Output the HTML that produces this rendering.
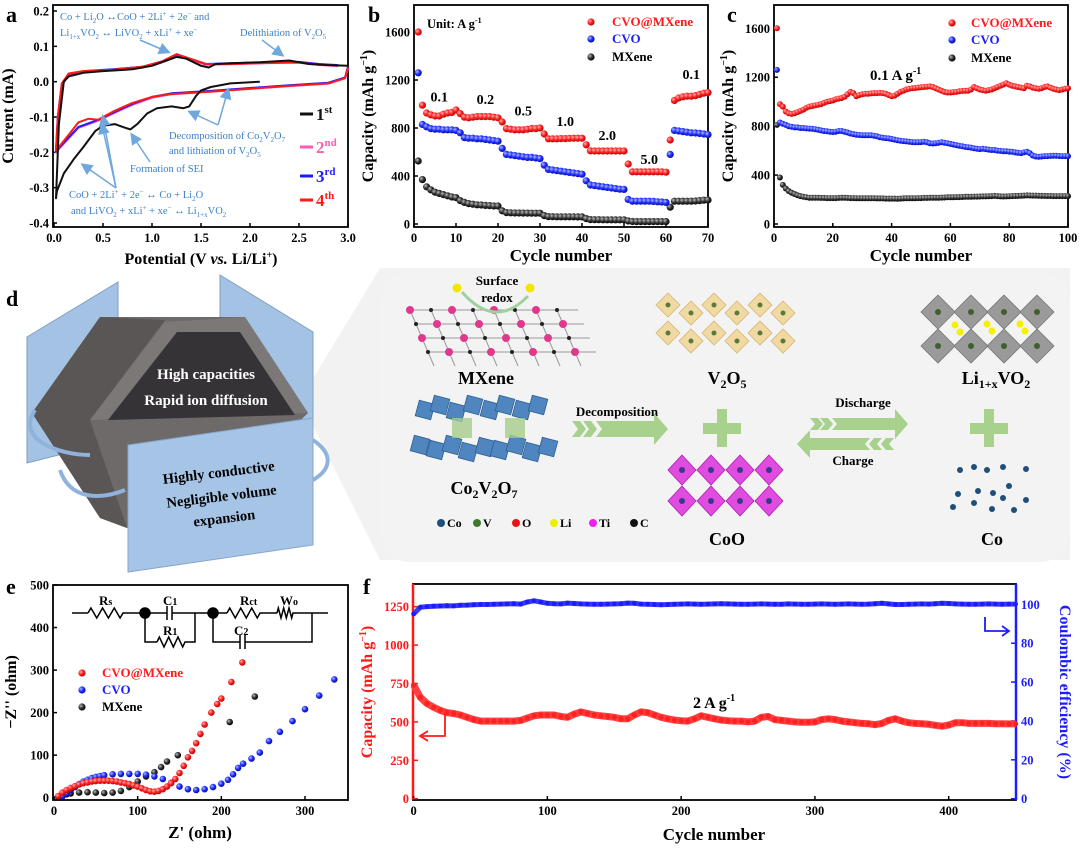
<!DOCTYPE html>
<html><head><meta charset="utf-8"><style>
html,body{margin:0;padding:0;background:#fff;}
svg{display:block;}
text{font-family:"Liberation Serif",serif;}
.b{font-weight:bold;}
</style></head><body>
<svg id="fig" xmlns="http://www.w3.org/2000/svg" width="1080" height="848" viewBox="0 0 1080 848">
<defs>
<radialGradient id="gR" cx="0.35" cy="0.35" r="0.7"><stop offset="0" stop-color="#ffb0b0"/><stop offset="0.5" stop-color="#ff2020"/><stop offset="1" stop-color="#b00000"/></radialGradient>
<radialGradient id="gB" cx="0.35" cy="0.35" r="0.7"><stop offset="0" stop-color="#b0b8ff"/><stop offset="0.5" stop-color="#2030ff"/><stop offset="1" stop-color="#0008a0"/></radialGradient>
<radialGradient id="gK" cx="0.35" cy="0.35" r="0.7"><stop offset="0" stop-color="#bbbbbb"/><stop offset="0.5" stop-color="#333"/><stop offset="1" stop-color="#000"/></radialGradient>
<marker id="arrB" markerWidth="8" markerHeight="8" refX="6" refY="4" orient="auto"><path d="M0,0 L8,4 L0,8 Z" fill="#6fa8dc"/></marker>
</defs>

<text x="6" y="22" class="b" font-size="22">a</text>
<text x="368" y="22" class="b" font-size="22">b</text>
<text x="727" y="22" class="b" font-size="22">c</text>
<text x="6" y="306" class="b" font-size="22">d</text>
<text x="6" y="594" class="b" font-size="22">e</text>
<text x="363" y="594" class="b" font-size="22">f</text>

<g id="pa"></g>
<g id="pb"></g>
<g id="pc"></g>
<g id="pe"></g>
<g id="pf"></g>

<g fill="#3d7ec6" font-size="10.5">
<text x="60" y="20">Co + Li<tspan font-size="7" dy="3">2</tspan><tspan dy="-3">O ↔CoO + 2Li</tspan><tspan font-size="7" dy="-4">+</tspan><tspan dy="4"> + 2e</tspan><tspan font-size="7" dy="-4">−</tspan><tspan dy="4"> and</tspan></text>
<text x="60" y="36">Li<tspan font-size="7" dy="3">1+x</tspan><tspan dy="-3">VO</tspan><tspan font-size="7" dy="3">2</tspan><tspan dy="-3"> ↔ LiVO</tspan><tspan font-size="7" dy="3">2</tspan><tspan dy="-3"> + xLi</tspan><tspan font-size="7" dy="-4">+</tspan><tspan dy="4"> + xe</tspan><tspan font-size="7" dy="-4">−</tspan></text>
<text x="240" y="36">Delithiation of V<tspan font-size="7" dy="3">2</tspan><tspan dy="-3">O</tspan><tspan font-size="7" dy="3">5</tspan></text>
<text x="169" y="139">Decomposition of Co<tspan font-size="7" dy="3">2</tspan><tspan dy="-3">V</tspan><tspan font-size="7" dy="3">2</tspan><tspan dy="-3">O</tspan><tspan font-size="7" dy="3">7</tspan></text>
<text x="169" y="154">and lithiation of V<tspan font-size="7" dy="3">2</tspan><tspan dy="-3">O</tspan><tspan font-size="7" dy="3">5</tspan></text>
<text x="130" y="172">Formation of SEI</text>
<text x="69" y="198">CoO + 2Li<tspan font-size="7" dy="-4">+</tspan><tspan dy="4"> + 2e</tspan><tspan font-size="7" dy="-4">−</tspan><tspan dy="4"> ↔ Co + Li</tspan><tspan font-size="7" dy="3">2</tspan><tspan dy="-3">O</tspan></text>
<text x="71" y="214">and LiVO<tspan font-size="7" dy="3">2</tspan><tspan dy="-3"> + xLi</tspan><tspan font-size="7" dy="-4">+</tspan><tspan dy="4"> + xe</tspan><tspan font-size="7" dy="-4">−</tspan><tspan dy="4"> ↔ Li</tspan><tspan font-size="7" dy="3">1+x</tspan><tspan dy="-3">VO</tspan><tspan font-size="7" dy="3">2</tspan></text>
</g>
<g stroke="#6fa8dc" stroke-width="1.5" fill="none" marker-end="url(#arrB)">
<line x1="140" y1="40" x2="168" y2="52"/>
<line x1="262" y1="40" x2="282" y2="55"/>
<line x1="218" y1="125" x2="190" y2="112"/>
<line x1="218" y1="125" x2="228" y2="90"/>
<line x1="150" y1="162" x2="132" y2="135"/>
<line x1="116" y1="188" x2="83" y2="165"/>
<line x1="116" y1="188" x2="102" y2="125"/>
<line x1="116" y1="188" x2="103" y2="117"/>
</g>

<g>
<polygon points="300,400 380,268 1070,268 1070,560 380,560" fill="#f2f2f2"/>
<rect x="380" y="272" width="690" height="290" rx="30" fill="#f3f3f3"/>
<polygon points="27,337 118,282 118,440 27,463" fill="#a4c2e4" stroke="#7f9fc4"/>
<polygon points="220,275 313,332 313,463 220,440" fill="#a4c2e4" stroke="#7f9fc4"/>
<polygon points="100,317 245,317 308,413 280,440 127,528 100,518 32,413" fill="#6e6a6a"/>
<polygon points="32,413 100,317 165,320 90,420 127,528 100,518" fill="#5a5656"/>
<polygon points="165,322 245,317 308,413 90,420" fill="#7c7878"/>
<polygon points="177,332 240,332 295,415 108,420" fill="#353335"/>
<path d="M35,410 C15,440 60,455 90,455" stroke="#8fb3dc" stroke-width="4" fill="none"/>
<path d="M60,470 C70,500 100,500 125,490" stroke="#8fb3dc" stroke-width="4" fill="none"/>
<path d="M313,440 C335,455 330,470 313,480" stroke="#8fb3dc" stroke-width="4" fill="none"/>
<polygon points="128,445 313,418 313,545 128,572" fill="#a6c4e6" stroke="#86a6cc"/>
<text x="206" y="379" text-anchor="middle" fill="#fff" class="b" font-size="15">High capacities</text>
<text x="206" y="405" text-anchor="middle" fill="#fff" class="b" font-size="15">Rapid ion diffusion</text>
<g transform="rotate(-7 222 500)">
<text x="222" y="477" text-anchor="middle" class="b" font-size="14.5">Highly conductive</text>
<text x="222" y="501" text-anchor="middle" class="b" font-size="14.5">Negligible volume</text>
<text x="222" y="523" text-anchor="middle" class="b" font-size="14.5">expansion</text>
</g>
</g>

<g id="mech">
<text x="497" y="285" text-anchor="middle" class="b" font-size="13">Surface</text>
<text x="497" y="302" text-anchor="middle" class="b" font-size="13">redox</text>
<text x="486" y="384" text-anchor="middle" class="b" font-size="18">MXene</text>
<text x="727" y="384" text-anchor="middle" class="b" font-size="18">V<tspan font-size="12" dy="4">2</tspan><tspan dy="-4">O</tspan><tspan font-size="12" dy="4">5</tspan></text>
<text x="996" y="384" text-anchor="middle" class="b" font-size="18">Li<tspan font-size="12" dy="4">1+x</tspan><tspan dy="-4">VO</tspan><tspan font-size="12" dy="4">2</tspan></text>
<text x="484" y="494" text-anchor="middle" class="b" font-size="18">Co<tspan font-size="12" dy="4">2</tspan><tspan dy="-4">V</tspan><tspan font-size="12" dy="4">2</tspan><tspan dy="-4">O</tspan><tspan font-size="12" dy="4">7</tspan></text>
<text x="727" y="545" text-anchor="middle" class="b" font-size="18">CoO</text>
<text x="992" y="545" text-anchor="middle" class="b" font-size="18">Co</text>
<text x="617" y="416" text-anchor="middle" class="b" font-size="13">Decomposition</text>
<text x="863" y="407" text-anchor="middle" class="b" font-size="13">Discharge</text>
<text x="853" y="465" text-anchor="middle" class="b" font-size="13">Charge</text>
<g fill="#a8d18d">
<polygon points="572,421 580,421 586,429 580,437 572,437 578,429"/>
<polygon points="583,421 591,421 597,429 591,437 583,437 589,429"/>
<polygon points="596,421 654,421 654,413 668,429 654,445 654,437 596,437 602,429"/>
<rect x="703" y="423" width="38" height="11"/><rect x="717" y="409" width="10" height="38"/>
<rect x="970" y="423" width="38" height="11"/><rect x="984" y="409" width="10" height="38"/>
<polygon points="810,418 818,418 823,424 818,430 810,430 815,424"/>
<polygon points="820,418 828,418 833,424 828,430 820,430 825,424"/>
<polygon points="832,418 895,418 895,409 908,424 895,439 895,430 832,430 837,424"/>
<polygon points="797,444 810,430 810,438 870,438 865,444 870,450 810,450 810,458"/>
<polygon points="874,438 882,438 877,444 882,450 874,450 869,444"/>
<polygon points="886,438 894,438 889,444 894,450 886,450 881,444"/>
</g>
<g font-size="12" class="b">
<circle cx="441" cy="523" r="4" fill="#1f4e79"/><text x="447" y="527">Co</text>
<circle cx="477" cy="523" r="4" fill="#3f7a2a"/><text x="483" y="527">V</text>
<circle cx="516" cy="523" r="4" fill="#ee1111"/><text x="522" y="527">O</text>
<circle cx="554" cy="523" r="4" fill="#eeee00"/><text x="560" y="527">Li</text>
<circle cx="593" cy="523" r="4" fill="#ee22ee"/><text x="599" y="527">Ti</text>
<circle cx="634" cy="523" r="4" fill="#111"/><text x="640" y="527">C</text>
</g>
</g>
</svg>

<script>
// Panel a: CV curves (potential V, current mA)
const aV1=[2.1,1.8,1.6,1.5,1.45,1.38,1.32,1.2,1.05,0.95,0.85,0.78,0.72,0.62,0.5,0.42,0.3,0.2,0.1,0.03,0.02,0.05,0.1,0.15,0.3,0.5,0.8,1.0,1.15,1.25,1.35,1.5,1.58,1.65,1.8,2.1,2.4,2.6,2.8,3.0];
const aI1=[0.0,-0.005,-0.015,-0.025,-0.04,-0.07,-0.075,-0.07,-0.075,-0.09,-0.12,-0.135,-0.13,-0.12,-0.125,-0.14,-0.185,-0.22,-0.26,-0.31,-0.33,-0.12,0.0,0.015,0.025,0.03,0.035,0.045,0.06,0.07,0.065,0.045,0.04,0.05,0.052,0.055,0.06,0.05,0.047,0.045];
const aV2=[3.0,2.97,2.8,2.4,2.0,1.6,1.2,1.0,0.8,0.6,0.45,0.35,0.25,0.15,0.05,0.02,0.04,0.08,0.15,0.3,0.6,0.9,1.1,1.25,1.4,1.55,1.8,2.2,2.5,2.7,2.9];
const aI2=[0.04,0.01,-0.005,-0.012,-0.02,-0.028,-0.035,-0.045,-0.065,-0.09,-0.11,-0.12,-0.13,-0.16,-0.19,-0.2,-0.1,-0.01,0.02,0.028,0.033,0.04,0.055,0.075,0.062,0.048,0.05,0.053,0.054,0.048,0.045];
const aV4=[3.0,2.97,2.8,2.4,2.0,1.6,1.2,1.0,0.8,0.6,0.45,0.35,0.25,0.15,0.05,0.02,0.04,0.08,0.15,0.3,0.6,0.9,1.1,1.25,1.4,1.55,1.8,2.2,2.5,2.7,2.9];
const aI4=[0.04,0.01,-0.005,-0.012,-0.02,-0.028,-0.035,-0.043,-0.06,-0.085,-0.108,-0.105,-0.115,-0.15,-0.185,-0.195,-0.1,-0.005,0.023,0.03,0.034,0.042,0.057,0.078,0.064,0.05,0.05,0.053,0.055,0.048,0.045];
const aXTicks=[0,0.5,1.0,1.5,2.0,2.5,3.0];
const aYTicks=[-0.4,-0.3,-0.2,-0.1,0.0,0.1,0.2];

// Panel b
const bCVOM=[1600,990,925,910,900,900,915,925,930,950,920,890,885,890,895,895,895,895,890,885,850,795,790,785,785,785,790,795,795,800,750,710,710,710,712,712,714,715,715,715,660,610,608,608,608,608,608,608,608,608,500,435,435,435,435,435,435,435,435,432,700,1030,1050,1060,1065,1065,1070,1080,1090,1095];
const bCVO=[1260,830,810,795,790,790,785,785,785,780,760,720,715,715,710,710,705,700,695,690,630,580,575,570,565,560,555,555,550,545,490,455,450,445,440,435,430,425,420,415,360,325,320,315,310,305,300,295,290,288,205,190,190,190,190,190,188,185,183,180,580,780,775,770,765,760,758,755,750,745];
const bMX=[525,370,310,285,265,255,245,235,225,220,195,180,170,165,160,158,155,153,150,150,110,95,93,92,92,91,91,90,90,90,70,62,61,60,60,60,60,60,59,59,45,37,36,36,35,35,35,35,35,35,25,21,20,20,20,20,20,20,20,20,140,190,190,190,190,190,192,195,198,200];
const bXTicks=[0,10,20,30,40,50,60,70];
const bYTicks=[0,400,800,1200,1600];
const bRateLabels=["0.1","0.2","0.5","1.0","2.0","5.0","0.1"];
const bRateCycles=[6,17,26,36,46,56,66];
const bRateVals=[1020,1000,905,815,700,500,1210];

// Panel c
const cCVOM=[1600,980,960,920,905,900,905,915,925,935,950,960,965,970,975,980,990,1000,1005,1010,1020,1025,1030,1040,1060,1080,1070,1045,1055,1060,1065,1065,1068,1070,1070,1072,1070,1065,1055,1045,1050,1065,1080,1090,1100,1105,1110,1112,1115,1118,1120,1122,1125,1120,1110,1100,1090,1080,1075,1075,1078,1080,1085,1088,1090,1090,1100,1120,1110,1100,1095,1090,1095,1100,1110,1120,1130,1140,1150,1140,1130,1125,1120,1115,1110,1130,1125,1115,1110,1105,1110,1120,1125,1115,1105,1100,1095,1100,1105,1110];
const cCVO=[1260,830,820,810,800,795,790,790,785,785,782,780,778,775,770,765,760,758,755,752,755,760,760,755,748,740,735,730,728,725,725,725,725,722,718,710,705,702,700,695,690,685,680,678,675,672,670,668,668,670,672,668,660,658,660,665,668,665,660,655,650,645,640,635,630,628,625,620,615,612,615,612,608,605,605,600,598,595,595,592,590,585,582,580,585,590,580,560,552,550,552,555,555,557,558,558,556,555,555,555];
const cMX=[810,380,320,290,270,255,245,235,228,222,218,215,215,214,214,213,213,212,212,212,212,213,214,214,213,212,212,211,211,210,210,210,210,210,209,209,209,208,208,208,208,207,208,209,210,210,211,211,212,212,213,213,214,214,215,215,216,217,218,218,219,220,220,221,222,222,223,224,224,225,226,226,227,228,230,228,226,225,226,227,228,229,230,231,232,234,233,232,232,231,230,230,229,229,228,228,228,228,228,228];
const cXTicks=[0,20,40,60,80,100];
const cYTicks=[0,400,800,1200,1600];

// Panel e
const eZr1=[5,10,15,20,25,30,35,40,45,50,55,60,65,70,75,80,85,90,95,100,105,110,115,120,125,130,135,140,145,150,155,160,165,170,175,180,188,195,200,212,225];
const eZi1=[4,12,18,23,27,31,34,36,38,39,40,40,40,39,38,36,34,32,29,26,22,18,15,14,16,20,26,34,44,58,75,95,110,128,150,172,200,220,233,272,318];
const eZr2=[10,15,20,25,30,35,40,45,50,55,60,70,80,90,100,110,120,130,140,150,160,170,180,190,200,208,214,220,226,236,246,257,270,285,300,317,335];
const eZi2=[3,10,18,25,32,38,42,46,49,51,53,55,56,56,56,54,50,44,35,26,20,18,20,25,33,42,55,70,80,92,106,133,155,180,208,240,278];
const eZr3=[5,10,15,20,30,40,50,60,70,80,90,100,110,120,128,135,148,210,240];
const eZi3=[2,5,8,10,12,13,12,11,12,16,25,38,50,60,72,85,100,178,238];
const eXTicks=[0,100,200,300];
const eYTicks=[0,100,200,300,400,500];

// Panel f
const fCap=[740,660,620,595,575,560,555,545,530,515,505,505,505,505,505,505,510,525,540,545,545,545,535,530,550,565,555,545,540,535,530,520,520,545,565,560,545,530,520,512,508,505,520,540,530,520,512,508,505,505,500,505,530,535,515,510,505,500,498,498,500,515,520,515,505,500,495,490,488,482,490,510,520,505,495,490,488,485,478,472,480,495,495,490,490,490,490,488,488,487,487];
const fCE=[95,98.5,98.8,99,99.1,99.3,99.2,99.5,99.6,99.8,99.9,99.9,100,100.1,100.2,100.3,100.1,101.2,101.8,101.2,100.5,100.3,100.2,100.6,100.4,100.2,100.1,100,100,100.1,100.2,100.3,100.6,100.5,100.1,100,99.9,99.8,99.9,100,100.1,100.2,100.1,100,100.1,100.2,100.3,100.2,100.1,100,100,100.1,100.2,100.1,100,100,100.2,100.1,100,100,100.1,100.2,100.1,100,100.1,100.2,100.1,100,100.1,100.3,100.5,100.2,99.9,99.9,100,100.1,100.2,100.1,100.3,100.5,100.4,100.2,100.1,100,100,100.1,100.2,100.1,100,100.1,100.1];
const fXTicks=[0,100,200,300,400];
const fYLTicks=[0,250,500,750,1000,1250];
const fYRTicks=[0,20,40,60,80,100];

const NS="http://www.w3.org/2000/svg";
function mk(tag,attrs,parent){const e=document.createElementNS(NS,tag);for(const k in attrs)e.setAttribute(k,attrs[k]);parent.appendChild(e);return e;}
function txt(parent,x,y,s,size,anchor,fill){const t=mk('text',{x:x,y:y,'font-size':size,'text-anchor':anchor||'middle',fill:fill||'#000','font-weight':'bold'},parent);t.textContent=s;return t;}
function fmt(v,d){return v.toFixed(d);}
function axesBox(g,x0,y0,x1,y1,xt,fx,yt,fy,xd,yd,name){
  const r=mk('rect',{x:x0,y:y0,width:x1-x0,height:y1-y0,fill:'none',stroke:'#000','stroke-width':1.8},g);
  
  
  xt.forEach(v=>{const x=fx(v);
    const l=mk('line',{x1:x,y1:y1,x2:x,y2:y1-4,stroke:'#000','stroke-width':1.5},g);
    
    
    const t=txt(g,x,y1+15,fmt(v,xd),12.5);
    
    });
  yt.forEach(v=>{const y=fy(v);
    const l=mk('line',{x1:x0,y1:y,x2:x0+4,y2:y,stroke:'#000','stroke-width':1.5},g);
    
    
    const t=txt(g,x0-4,y+4.5,fmt(v,yd),12.5,'end');
    
    });
}
function ytitle(g,x,y,parts,color,name){
  const t=mk('text',{x:x,y:y,'font-size':16,'text-anchor':'middle','font-weight':'bold',fill:color||'#000',transform:'rotate(-90 '+x+' '+y+')'},g);
  
  
  t.innerHTML=parts;return t;}
function line(g,xs,ys,fx,fy,color,w,name){
  const d=xs.map((x,i)=>(i?'L':'M')+fx(x).toFixed(1)+','+fy(ys[i]).toFixed(1)).join('');
  const p=mk('path',{d:d,fill:'none',stroke:color,'stroke-width':w,'stroke-linejoin':'round'},g);
  
  
  return p;}
function dots(g,xs,ys,fx,fy,fill,r,name){
  const gg=mk('g',{},g);
  
  
  const n=Math.min(xs.length,ys.length);
  for(let i=0;i<n;i++){const c=mk('circle',{cx:fx(xs[i]).toFixed(1),cy:fy(ys[i]).toFixed(1),r:r,fill:fill},gg);
    
    }
  return gg;}
const idx=(arr,start)=>arr.map((_,i)=>i+start);

(function(){
const g=document.getElementById('pa');
const X=v=>54+v/3*294, Y=i=>11+(0.2-i)/0.6*212;
axesBox(g,53,5,348,227,aXTicks,X,aYTicks,Y,1,1,'cv');
line(g,aV2,aI2,X,Y,'#ff5ab4',2.4,'cv-cycle-2');
line(g,aV2,aI2.map(v=>v+0.002),X,Y,'#1c1cff',2,'cv-cycle-3');
line(g,aV4,aI4,X,Y,'#ff1a1a',2,'cv-cycle-4');
line(g,aV1,aI1,X,Y,'#111',2,'cv-cycle-1');
ytitle(g,13,116,'Current (mA)','#000','cv-y-axis-title');
const xt=mk('text',{x:201,y:264,'font-size':16,'text-anchor':'middle','font-weight':'bold'},g);


xt.innerHTML='Potential (V <tspan font-style="italic">vs.</tspan> Li/Li<tspan font-size="10" dy="-6">+</tspan><tspan dy="6">)</tspan>';
const leg=[['#111','1','st',114],['#ff5ab4','2','nd',147],['#1c1cff','3','rd',176],['#ff1a1a','4','th',200]];
leg.forEach(l=>{
 const s=mk('line',{x1:300,y1:l[3],x2:313,y2:l[3],stroke:l[0],'stroke-width':3},g);
 
 
 const t=mk('text',{x:316,y:l[3]+6,'font-size':17,'font-weight':'bold',fill:l[0]},g);
 
 
 t.innerHTML=l[1]+'<tspan font-size="11" dy="-7">'+l[2]+'</tspan>';});
})();

(function(){
const g=document.getElementById('pb');
const X=c=>414+c/70*294, Y=v=>224-v/1600*192;
axesBox(g,414,5,708,227,bXTicks,X,bYTicks,Y,0,0,'rate');
dots(g,idx(bMX,1),bMX,X,Y,'url(#gK)',3.6,'rate-mxene');
dots(g,idx(bCVO,1),bCVO,X,Y,'url(#gB)',3.6,'rate-cvo');
dots(g,idx(bCVOM,1),bCVOM,X,Y,'url(#gR)',3.6,'rate-cvo-mxene');
bRateLabels.forEach((s,i)=>{const t=txt(g,X(bRateCycles[i]),Y(bRateVals[i]),s,14);
 
 });
const u=mk('text',{x:427,y:28,'font-size':12.5,'font-weight':'bold'},g);


u.innerHTML='Unit: A g<tspan font-size="8" dy="-5">-1</tspan>';
[['url(#gR)','#ff1a1a','CVO@MXene',26],['url(#gB)','#1c1cff','CVO',43],['url(#gK)','#000','MXene',61]].forEach(l=>{
 const c=mk('circle',{cx:591,cy:l[3]-4,r:3.6,fill:l[0]},g);
 
 
 const t=txt(g,612,l[3],l[2],13,'start',l[1]);
 
 });
ytitle(g,373,116,'Capacity (mAh g<tspan font-size="10" dy="-6">−1</tspan><tspan dy="6">)</tspan>','#000','rate-y-axis-title');
const xt=txt(g,561,261,'Cycle number',17);


})();

(function(){
const g=document.getElementById('pc');
const X=c=>774+c/100*294, Y=v=>224-v/1600*195.7;
axesBox(g,774,5,1068,227,cXTicks,X,cYTicks,Y,0,0,'cycling');
dots(g,idx(cMX,1),cMX,X,Y,'url(#gK)',3,'cycling-mxene');
dots(g,idx(cCVO,1),cCVO,X,Y,'url(#gB)',3,'cycling-cvo');
dots(g,idx(cCVOM,1),cCVOM,X,Y,'url(#gR)',3,'cycling-cvo-mxene');
[['url(#gR)','#ff1a1a','CVO@MXene',27],['url(#gB)','#1c1cff','CVO',44],['url(#gK)','#000','MXene',62]].forEach(l=>{
 const c=mk('circle',{cx:952,cy:l[3]-4,r:3.6,fill:l[0]},g);
 
 
 const t=txt(g,971,l[3],l[2],13,'start',l[1]);
 
 });
const a=mk('text',{x:870,y:80,'font-size':15,'font-weight':'bold'},g);


a.innerHTML='0.1 A g<tspan font-size="10" dy="-6">-1</tspan>';
ytitle(g,733,116,'Capacity (mAh g<tspan font-size="10" dy="-6">−1</tspan><tspan dy="6">)</tspan>','#000','cycling-y-axis-title');
const xt=txt(g,921,261,'Cycle number',17);


})();

(function(){
const g=document.getElementById('pe');
const X=z=>54+z*0.8367, Y=z=>797.7-z/500*212.7;
axesBox(g,53,585,348,800,eXTicks,X,eYTicks,Y,0,0,'eis');
dots(g,eZr3,eZi3,X,Y,'url(#gK)',3.3,'eis-mxene');
dots(g,eZr2,eZi2,X,Y,'url(#gB)',3.3,'eis-cvo');
dots(g,eZr1,eZi1,X,Y,'url(#gR)',3.3,'eis-cvo-mxene');
[['url(#gR)','#ff1a1a','CVO@MXene',677],['url(#gB)','#1c1cff','CVO',694],['url(#gK)','#000','MXene',711]].forEach(l=>{
 const c=mk('circle',{cx:82,cy:l[3]-4,r:3.6,fill:l[0]},g);
 
 
 const t=txt(g,102,l[3],l[2],13,'start',l[1]);
 
 });
ytitle(g,16,692,'−Z\'\' (ohm)','#000','eis-y-axis-title');
const xt=txt(g,200,838,"Z' (ohm)",17);


const cg=mk('g',{stroke:'#000','stroke-width':1.5,fill:'none'},g);


const zig=(x0,x1,y)=>{let d='M'+x0+','+y;const n=6,w=(x1-x0)/n;for(let i=0;i<n;i++){d+=' L'+(x0+w*(i+0.5))+','+(y+(i%2?5:-5));}d+=' L'+x1+','+y;return d;};
mk('path',{d:'M72,613 L88,613 '+zig(88,123,613)+' L167,613 M172,613 L213,613 L227,613 '+zig(227,260,613)+' L277,613 '+zig(277,293,613)+' L328,613'},cg);
mk('path',{d:'M167,606 L167,620 M172,606 L172,620 M145,613 L145,642 L157,642 '+zig(157,185,642)+' L195,642 L195,613 M213,613 L213,642 L240,642 M245,642 L312,642 L312,613 M240,635 L240,649 M245,635 L245,649'},cg);
mk('circle',{cx:145,cy:613,r:5,fill:'#000'},cg);
mk('circle',{cx:213,cy:613,r:5,fill:'#000'},cg);
[['R','s',99,605],['C','1',163,605],['R','1',163,635],['R','ct',240,605],['W','o',280,605],['C','2',234,635]].forEach(l=>{
 const t=mk('text',{x:l[2],y:l[3],'font-size':13,'font-weight':'bold'},g);
 
 
 t.innerHTML=l[0]+'<tspan font-size="10">'+l[1]+'</tspan>';});
})();

(function(){
const g=document.getElementById('pf');
const X=c=>413.6+c/450*602, YL=v=>798.7-v/1250*192, YR=p=>798.7-p/100*194.4;
const fr=mk('rect',{x:413,y:584,width:603,height:216,fill:'none',stroke:'#000','stroke-width':1.8},g);


const la=mk('line',{x1:413,y1:584,x2:413,y2:800,stroke:'#ff1a1a','stroke-width':2.5},g);


const ra=mk('line',{x1:1016,y1:584,x2:1016,y2:800,stroke:'#1c1cff','stroke-width':2.5},g);


fXTicks.forEach(v=>{const l=mk('line',{x1:X(v),y1:800,x2:X(v),y2:796,stroke:'#000','stroke-width':1.5},g);
 
 
 const t=txt(g,X(v),815,String(v),12.5);
 
 });
fYLTicks.forEach(v=>{const l=mk('line',{x1:413,y1:YL(v),x2:418,y2:YL(v),stroke:'#ff1a1a','stroke-width':1.5},g);
 
 
 const t=txt(g,409,YL(v)+4.5,String(v),12.5,'end','#ff1a1a');
 
 });
fYRTicks.forEach(v=>{const l=mk('line',{x1:1016,y1:YR(v),x2:1011,y2:YR(v),stroke:'#1c1cff','stroke-width':1.5},g);
 
 
 const t=txt(g,1021,YR(v)+4.5,String(v),12.5,'start','#1c1cff');
 
 });
const cyc=fCap.map((_,i)=>i*5);
line(g,cyc,fCap,X,YL,'#ff4040',7,'capacity-band');
dots(g,cyc,fCap,X,YL,'#ff2020',2.6,'capacity-series');
const cyc2=fCE.map((_,i)=>i*5);
line(g,cyc2,fCE,X,YR,'#3a3aff',5,'ce-band');
dots(g,cyc2,fCE,X,YR,'#1c1cff',2.4,'ce-series');
const a=mk('text',{x:693,y:708,'font-size':16,'font-weight':'bold'},g);


a.innerHTML='2 A g<tspan font-size="10" dy="-7">-1</tspan>';
const ar1=mk('path',{d:'M445,714 L445,736 L422,736 M428,731 L420,736 L428,741',stroke:'#ff1a1a','stroke-width':1.8,fill:'none'},g);


const ar2=mk('path',{d:'M985,617 L985,631 L1008,631 M1002,626 L1009,631 L1002,636',stroke:'#1c1cff','stroke-width':1.8,fill:'none'},g);


ytitle(g,372,692,'Capacity (mAh g<tspan font-size="10" dy="-6">−1</tspan><tspan dy="6">)</tspan>','#ff1a1a','capacity-y-axis-title');
const rt=mk('text',{x:1060,y:692,'font-size':16,'text-anchor':'middle','font-weight':'bold',fill:'#1c1cff',transform:'rotate(90 1060 692)'},g);


rt.textContent='Coulombic efficiency (%)';
const xt=txt(g,714,840,'Cycle number',17);


})();

(function(){
const g=document.getElementById('mech');
const add=(tag,a,name)=>{const e=mk(tag,a,g);if(name){
}return e;};
const mx=add('g',{},'mxene-structure');
for(let r=0;r<4;r++)for(let c=0;c<8;c++){const x=410+c*21+r*6,y=310+r*14;
 mk('line',{x1:x,y1:y,x2:x+21,y2:y,stroke:'#999','stroke-width':1},mx);
 mk('line',{x1:x,y1:y,x2:x+6,y2:y+14,stroke:'#999','stroke-width':1},mx);
 mk('circle',{cx:x,cy:y,r:(r+c)%2?2:4,fill:(r+c)%2?'#222':'#e0398c'},mx);}
add('circle',{cx:457,cy:288,r:4.5,fill:'#f2e600'});add('circle',{cx:530,cy:288,r:4.5,fill:'#f2e600'});
add('path',{d:'M462,292 Q495,330 528,296',stroke:'#9fd19f','stroke-width':3,fill:'none'});
const v=add('g',{},'v2o5-structure');
for(let r=0;r<2;r++)for(let c=0;c<6;c++){const x=668+c*23,y=305+r*28+(c%2)*8;
 mk('polygon',{points:`${x},${y-12} ${x+12},${y} ${x},${y+12} ${x-12},${y}`,fill:'#f1d9a3',stroke:'#d4b774','stroke-width':0.8},v);
 mk('circle',{cx:x,cy:y,r:2.5,fill:'#5b7a3a'},v);}
const li=add('g',{},'livo2-structure');
for(let r=0;r<2;r++)for(let c=0;c<4;c++){const x=938+c*33,y=312+r*34;
 mk('polygon',{points:`${x},${y-17} ${x+17},${y} ${x},${y+17} ${x-17},${y}`,fill:'#9a9a9a',stroke:'#777','stroke-width':0.8},li);
 mk('circle',{cx:x,cy:y,r:3,fill:'#3f5f2f'},li);}
[[955,325],[960,332],[987,324],[992,331],[1020,324],[1025,331]].forEach(p=>mk('circle',{cx:p[0],cy:p[1],r:3.5,fill:'#f5f000'},li));
const cv=add('g',{},'co2v2o7-structure');
[[425,410],[440,405],[456,412],[473,405],[490,410],[505,405],[522,410],[538,405],[420,445],[436,450],[452,445],[468,452],[485,447],[500,450],[516,445],[532,452],[548,447]].forEach(p=>mk('rect',{x:p[0]-8,y:p[1]-8,width:16,height:16,fill:'#4f86c0',stroke:'#2e5f94','stroke-width':0.8,transform:`rotate(15 ${p[0]} ${p[1]})`},cv));
[[462,428],[515,428]].forEach(p=>mk('rect',{x:p[0]-10,y:p[1]-10,width:20,height:20,fill:'#a5cc8a',opacity:0.8},cv));
const co=add('g',{},'coo-structure');
for(let r=0;r<2;r++)for(let c=0;c<4;c++){const x=682+c*29,y=470+r*31;
 mk('polygon',{points:`${x},${y-15} ${x+14},${y} ${x},${y+15} ${x-14},${y}`,fill:'#e04be0',stroke:'#b020b0','stroke-width':0.8},co);
 mk('circle',{cx:x,cy:y,r:3,fill:'#3a3a8a'},co);}
const cd=add('g',{},'co-atoms');
[[960,470],[974,467],[987,470],[1003,467],[1026,469],[958,494],[978,491],[993,493],[1009,486],[1026,500],[953,507],[974,503],[992,509],[1003,498],[1014,510]].forEach(p=>mk('circle',{cx:p[0],cy:p[1],r:3,fill:'#1f4e79'},cd));
})();
</script>
</body></html>
